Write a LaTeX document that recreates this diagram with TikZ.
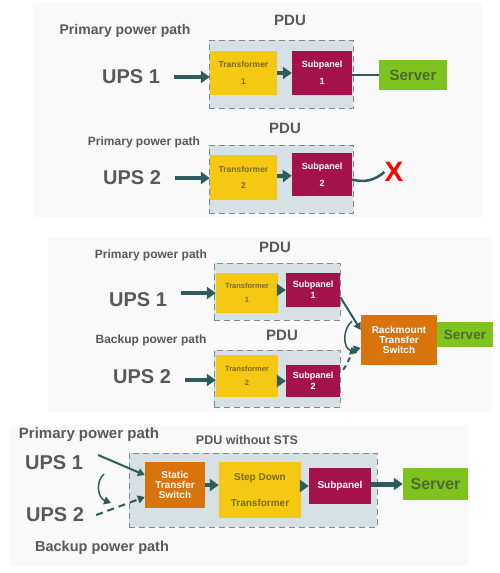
\documentclass[tikz,border=0pt]{standalone}
\usepackage{fontspec}
\setmainfont{Liberation Sans}
\usepackage{xcolor}
\usepackage{tikz}
\usetikzlibrary{arrows.meta,positioning}

\definecolor{pdufill}{HTML}{D6E0E5}
\definecolor{pduedge}{HTML}{7E8E95}
\definecolor{trafoyel}{HTML}{F5C814}
\definecolor{subred}{HTML}{A3124B}
\definecolor{srvgreen}{HTML}{7FC31E}
\definecolor{sworange}{HTML}{D8730E}
\definecolor{flowteal}{HTML}{2E5B5D}
\definecolor{lblgray}{HTML}{58595B}
\definecolor{trafotxt}{HTML}{7D6A1E}
\definecolor{srvtxt}{HTML}{4F6B35}
\definecolor{panelbg}{HTML}{F9F9F9}

\newcommand{\fsz}[1]{\fontsize{#1}{#1}\selectfont}

\begin{document}
\begin{tikzpicture}[x=1pt,y=-1pt,
    pdu/.style={draw=pduedge, fill=pdufill, dash pattern=on 6pt off 4pt, line width=1pt, inner sep=0},
    unit/.style={inner sep=0, align=center},
    trafo/.style={unit, fill=trafoyel, text=trafotxt, font=\bfseries\fsz{8.5}},
    subpan/.style={unit, fill=subred, text=white, font=\bfseries\fsz{9}},
    server/.style={unit, fill=srvgreen, text=srvtxt, font=\bfseries\fsz{15}},
    switchbox/.style={unit, fill=sworange, text=white, font=\bfseries\fsz{10}},
    upslbl/.style={text=lblgray, font=\bfseries\fsz{20}, inner sep=0},
    pathlbl/.style={text=lblgray, font=\bfseries\fsz{12}, inner sep=0},
    pdulbl/.style={text=lblgray, font=\bfseries\fsz{15}, inner sep=0},
    flow/.style={draw=flowteal, line width=4pt, -{Triangle[length=9pt,width=12pt]}},
    link/.style={draw=flowteal, line width=2pt, -{Triangle[length=7pt,width=8pt]}},
    wire/.style={draw=flowteal, line width=2.5pt}]
    \useasboundingbox (0,0) rectangle (500,573);
    \fill[panelbg] (33,3) rectangle (482,217);
    \fill[panelbg] (48,237) rectangle (492,412);
    \fill[panelbg] (10,425) rectangle (468,566);

    % single PDU, both paths
    \node[pdu, minimum width=144, minimum height=68] (pdu1) at (281,74) {};
    \node[pdulbl] (pdu1lbl) at (290,20) {PDU};
    \node[pathlbl, font=\bfseries\fsz{14}] (path1) at (125,31) {Primary power path};
    \node[trafo, minimum width=67, minimum height=44] (trafo1) at (243.5,73) {Transformer\\[8pt]1};
    \node[subpan, minimum width=60, minimum height=44] (sub1) at (322,73) {Subpanel\\[8pt]1};
    \node[server, minimum width=68, minimum height=30] (server1) at (413,75) {Server};
    \node[upslbl] (ups1) at (131,77) {UPS 1};
    \draw[flow, shorten <=14pt] (ups1.east) -- (ups1.east -| trafo1.west);
    \draw[flow] (trafo1) -- (sub1);
    \draw[wire] (sub1.east |- server1.west) -- (server1.west);

    \node[pdu, minimum width=144, minimum height=68] (pdu2) at (281,179) {};
    \node[pdulbl] (pdu2lbl) at (285,128) {PDU};
    \node[pathlbl] (path2) at (144,142) {Primary power path};
    \node[trafo, minimum width=67, minimum height=45] (trafo2) at (243.5,177.5) {Transformer\\[8pt]2};
    \node[subpan, minimum width=60, minimum height=43] (sub2) at (322,174.5) {Subpanel\\[8pt]2};
    \node[upslbl] (ups2) at (132,178) {UPS 2};
    \node[text=red, font=\bfseries\fsz{28}, inner sep=0] (fail) at (394,172) {X};
    \draw[flow, shorten <=14pt] (ups2.east) -- (ups2.east -| trafo2.west);
    \draw[flow] (trafo2) -- (sub2);
    \draw[wire] ([shift={(0,5)}]sub2.east) .. controls (365,183) and (375,180) .. (fail.west);

    % rackmount transfer switch
    \node[pdu, minimum width=126, minimum height=57] (pdu3) at (277,291.5) {};
    \node[pdulbl] (pdu3lbl) at (275,247) {PDU};
    \node[pathlbl] (path3) at (151,255) {Primary power path};
    \node[trafo, font=\bfseries\fsz{7.5}, minimum width=62, minimum height=40] (trafo3) at (247,293) {Transformer\\[6pt]1};
    \node[subpan, minimum width=54, minimum height=34] (sub3) at (313,290) {Subpanel\\[2pt]1};
    \node[upslbl] (ups3) at (138,300) {UPS 1};
    \draw[flow, shorten <=14pt] (ups3.east |- trafo3.west) -- (trafo3.west);
    \draw[flow] (trafo3.east |- sub3) -- (sub3.west);

    \node[pdu, minimum width=126, minimum height=57] (pdu4) at (277,378.5) {};
    \node[pdulbl] (pdu4lbl) at (282,335) {PDU};
    \node[pathlbl] (path4) at (151,340) {Backup power path};
    \node[trafo, font=\bfseries\fsz{7.5}, minimum width=62, minimum height=42] (trafo4) at (247,376) {Transformer\\[6pt]2};
    \node[subpan, minimum width=54, minimum height=32] (sub4) at (313,381) {Subpanel\\[2pt]2};
    \node[upslbl] (ups4) at (142,377) {UPS 2};
    \draw[flow, shorten <=14pt] (ups4.east |- 0,380) -- (trafo4.west |- 0,380);
    \draw[flow] (trafo4.east |- sub4) -- (sub4.west);

    \node[switchbox, minimum width=76, minimum height=50] (rts) at (399,340) {Rackmount\\Transfer\\Switch};
    \node[server, font=\bfseries\fsz{13.5}, minimum width=56, minimum height=25] (server3) at (465,334.5) {Server};
    \coordinate (swap3a) at (352,321);
    \coordinate (swap3b) at (357,353);
    \draw[link] ([shift={(0,7)}]sub3.east) -- ([shift={(0,-10)}]rts.west);
    \draw[link, line width=1.5pt] (swap3a) .. controls (342,330) and (343,348) .. (swap3b);
    \draw[link, dash pattern=on 5pt off 4pt] ([shift={(3,5)}]sub4.north east) .. controls (350,360) and (352,350) .. ([shift={(0,8)}]rts.west);

    % static transfer switch inside the PDU
    \node[pdu, minimum width=248, minimum height=74] (pdu5) at (253,490) {};
    \node[pdulbl, font=\bfseries\fsz{12.5}] (pdu5lbl) at (247,440) {PDU without STS};
    \node[pathlbl, font=\bfseries\fsz{15}] (path5) at (89,435) {Primary power path};
    \node[pathlbl, font=\bfseries\fsz{14.5}] (path6) at (102,548) {Backup power path};
    \node[upslbl] (ups5) at (54,463) {UPS 1};
    \node[upslbl] (ups6) at (55,515) {UPS 2};
    \node[switchbox, minimum width=60, minimum height=46] (sts) at (175,485) {Static\\Transfer\\Switch};
    \node[trafo, font=\bfseries\fsz{10}, minimum width=82, minimum height=56] (stepdown) at (260,490) {Step Down\\[16pt]Transformer};
    \node[subpan, font=\bfseries\fsz{10}, minimum width=62, minimum height=36] (sub5) at (340,486) {Subpanel};
    \node[server, font=\bfseries\fsz{16}, minimum width=65, minimum height=32] (server5) at (435.5,484) {Server};
    \coordinate (swap5a) at (104,474);
    \coordinate (swap5b) at (111,503);
    \draw[link] ([shift={(15,-8)}]ups5.east) -- ([shift={(0,-10)}]sts.west);
    \draw[link, dash pattern=on 7pt off 5pt] ([shift={(12,0)}]ups6.east) -- ([shift={(0,12)}]sts.west);
    \draw[link, line width=1.5pt] (swap5a) .. controls (95,482) and (98,498) .. (swap5b);
    \draw[flow] (sts.east) -- (sts.east -| stepdown.west);
    \draw[flow] (stepdown.east |- sub5) -- (sub5.west);
    \draw[flow, line width=5pt] (sub5.east |- server5) -- (server5.west);
\end{tikzpicture}
\end{document}
